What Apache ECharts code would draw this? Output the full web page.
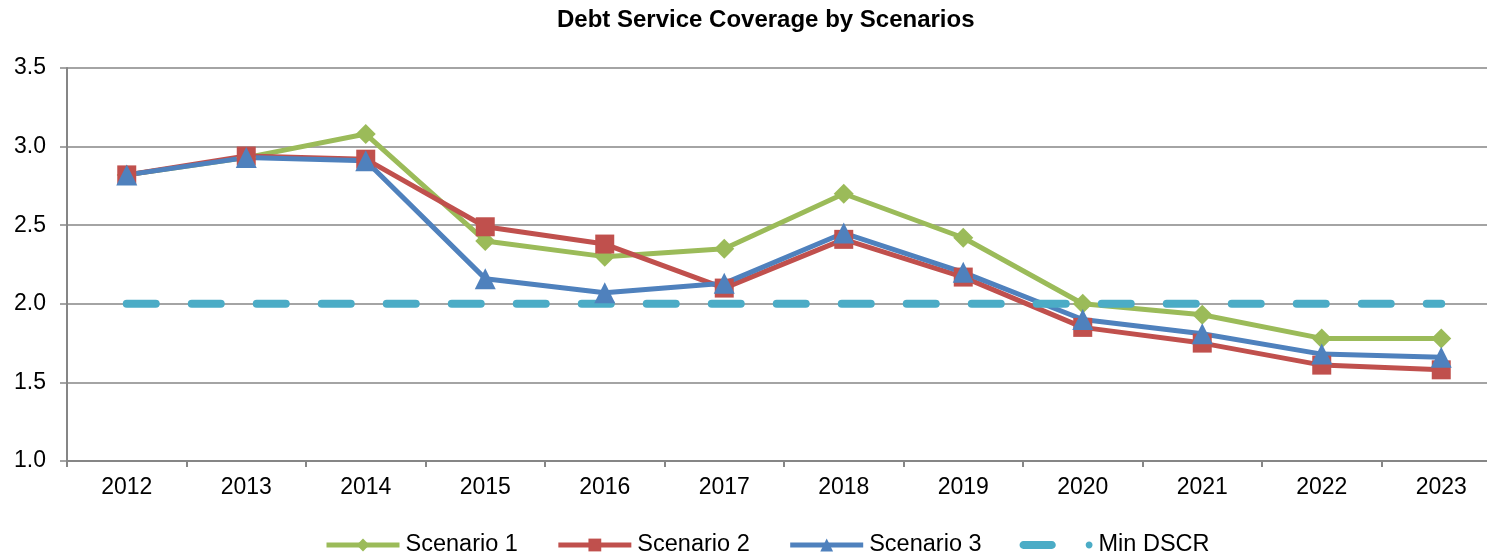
<!DOCTYPE html>
<html>
<head>
<meta charset="utf-8">
<script src="https://cdn.jsdelivr.net/npm/echarts@6/dist/echarts.min.js"></script>
<style>
  html, body { margin: 0; padding: 0; background: #fff; }
  #main { width: 1487px; height: 552px; }
</style>
</head>
<body>
<div id="main"></div>
<script>
// values
const years = ["2012", "2013", "2014", "2015", "2016", "2017", "2018", "2019", "2020", "2021", "2022", "2023"];
const scenario1 = [2.82, 2.93, 3.08, 2.40, 2.30, 2.35, 2.70, 2.42, 2.00, 1.93, 1.78, 1.78];
const scenario2 = [2.82, 2.94, 2.92, 2.49, 2.38, 2.10, 2.41, 2.17, 1.85, 1.75, 1.61, 1.58];
const scenario3 = [2.82, 2.93, 2.91, 2.16, 2.07, 2.13, 2.45, 2.20, 1.90, 1.81, 1.68, 1.66];
const minDSCR = [2.0, 2.0, 2.0, 2.0, 2.0, 2.0, 2.0, 2.0, 2.0, 2.0, 2.0, 2.0];

const FONT = "Liberation Sans, Arial, sans-serif";
const AXIS_GRAY = "#868686";

// legend icon for the dashed line: one rounded dash plus a small dot near the end
const dashIcon = "path://" +
  "M4 3 H33 C35.2 3 37 4.8 37 7 C37 9.2 35.2 11 33 11 H4 C1.8 11 0 9.2 0 7 C0 4.8 1.8 3 4 3 Z " +
  "M67.5 7 C67.5 5.07 69.07 3.5 71 3.5 C72.93 3.5 74.5 5.07 74.5 7 " +
  "C74.5 8.93 72.93 10.5 71 10.5 C69.07 10.5 67.5 8.93 67.5 7 Z";

const chart = echarts.init(document.getElementById("main"));

function lineSeries(name, data, color, symbol, size) {
  return {
    name: name,
    type: "line",
    data: data,
    symbol: symbol,
    symbolSize: size,
    lineStyle: { color: color, width: 5 },
    itemStyle: { color: color },
  };
}

chart.setOption({
  animation: false,
  title: {
    text: "Debt Service Coverage by Scenarios",
    left: 557,
    top: 8,
    padding: 0,
    textStyle: { fontFamily: FONT, fontSize: 24, fontWeight: "bold", color: "#000" },
  },
  grid: {
    left: 67,
    right: -14,
    top: 68,
    bottom: 91,
    containLabel: false,
    outerBoundsMode: "none",
  },
  legend: {
    left: 324,
    top: 533,
    padding: 0,
    itemWidth: 73,
    itemHeight: 16,
    itemGap: 38,
    selectedMode: false,
    lineStyle: { width: 5 },
    textStyle: { fontFamily: FONT, fontSize: 23.5, color: "#000", padding: [0, 0, 0, 1] },
    data: [
      { name: "Scenario 1" },
      { name: "Scenario 2" },
      { name: "Scenario 3" },
      { name: "Min DSCR", icon: dashIcon },
    ],
  },
  xAxis: {
    type: "category",
    data: years,
    boundaryGap: true,
    axisLine: { lineStyle: { color: AXIS_GRAY, width: 2 } },
    axisTick: { show: true, length: 6, lineStyle: { color: AXIS_GRAY, width: 2 } },
    axisLabel: { fontFamily: FONT, fontSize: 23, color: "#000", margin: 15 },
    splitLine: { show: false },
  },
  yAxis: {
    type: "value",
    min: 1,
    max: 3.5,
    interval: 0.5,
    axisLine: { show: true, lineStyle: { color: AXIS_GRAY, width: 2 } },
    axisTick: { show: true, length: 7, lineStyle: { color: AXIS_GRAY, width: 1.5 } },
    axisLabel: {
      fontFamily: FONT,
      fontSize: 23,
      color: "#000",
      margin: 21,
      formatter: (v) => v.toFixed(1),
    },
    splitLine: { show: true, lineStyle: { color: AXIS_GRAY, width: 1.5 } },
  },
  series: [
    lineSeries("Scenario 1", scenario1, "#9BBB59", "diamond", 20),
    lineSeries("Scenario 2", scenario2, "#C0504D", "rect", 19),
    lineSeries("Scenario 3", scenario3, "#4F81BD", "triangle", 21),
    {
      name: "Min DSCR",
      type: "line",
      data: minDSCR,
      symbol: "none",
      lineStyle: { color: "#4BACC6", width: 8, type: [29, 36], cap: "round" },
      itemStyle: { color: "#4BACC6" },
    },
  ],
});
</script>
</body>
</html>
